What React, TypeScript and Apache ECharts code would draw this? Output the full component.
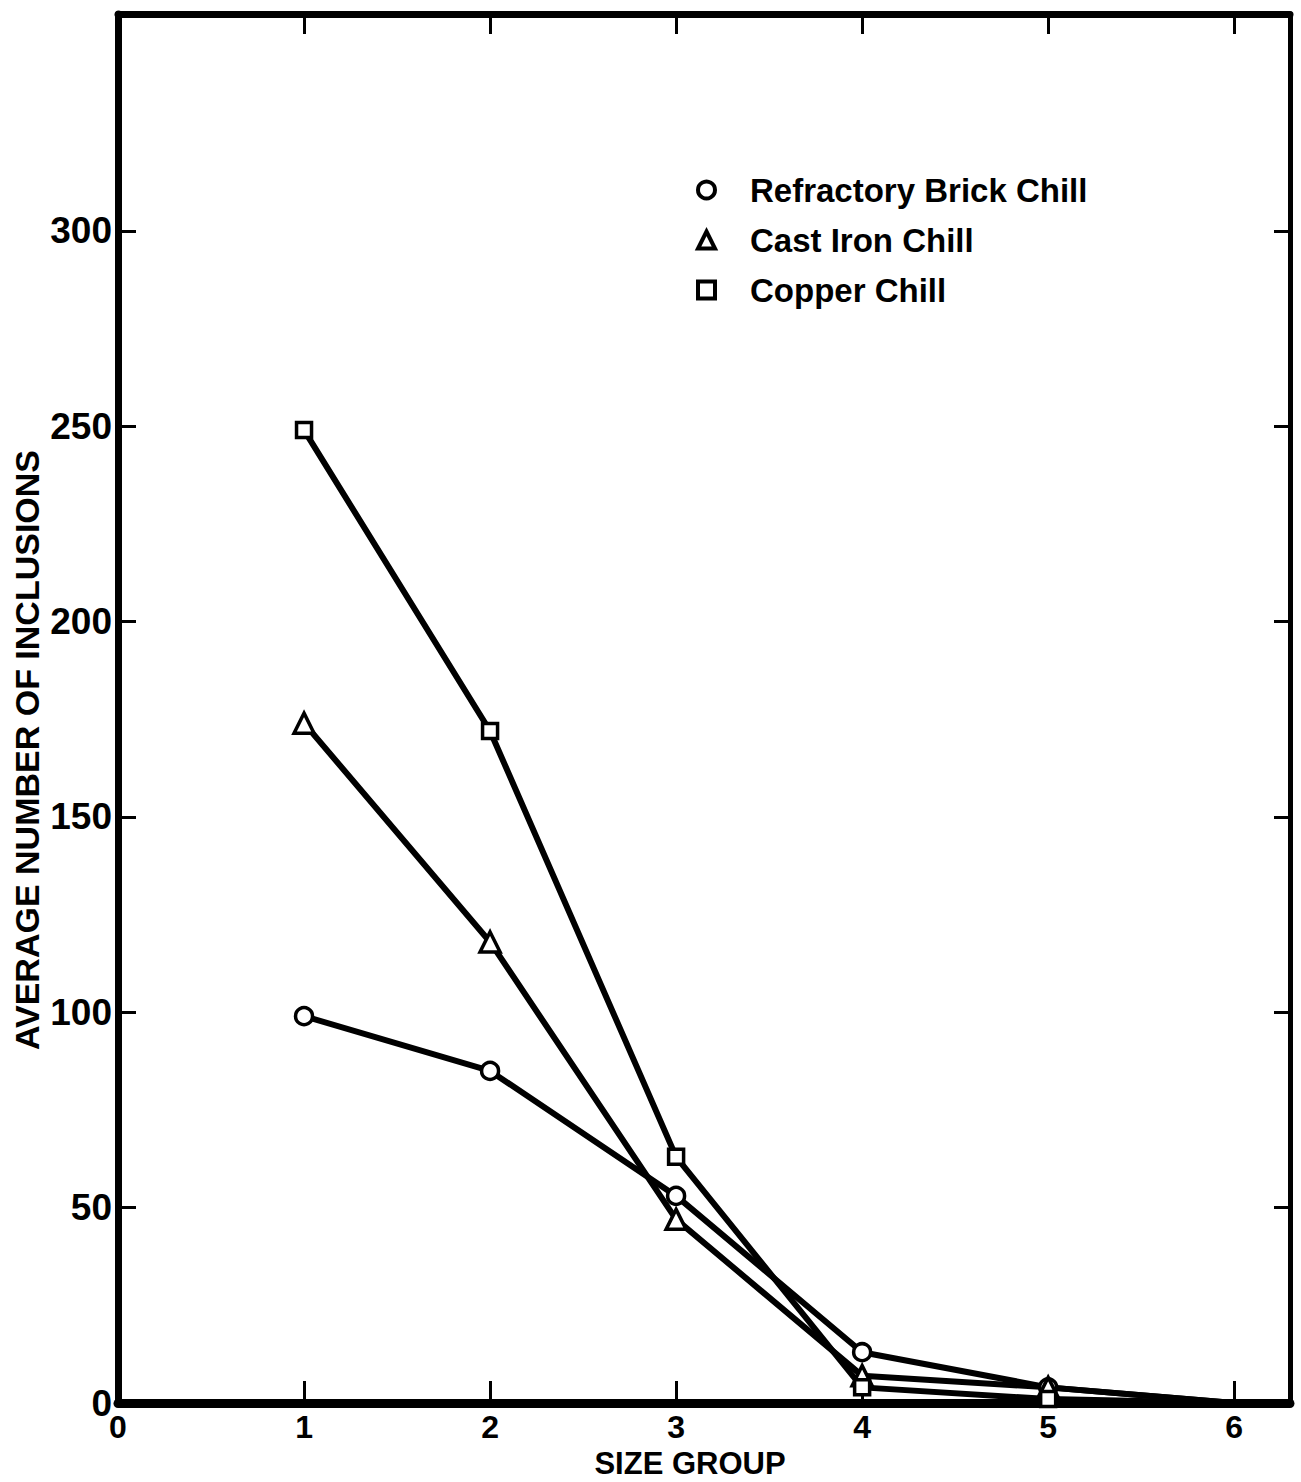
import React, { useEffect, useRef } from "react";
import * as echarts from "echarts";

// ---- data ----
const sizeGroups = [1, 2, 3, 4, 5, 6];
const refractoryBrick = [99, 85, 53, 13, 4, 0];
const castIron = [174, 118, 47, 7, 4, 0];
const copper = [249, 172, 63, 4, 1, 0];
const xTickValues = [0, 1, 2, 3, 4, 5, 6];
const xTopTickValues = [1, 2, 3, 4, 5, 6];
const yTickValues = [0, 50, 100, 150, 200, 250, 300];
const yRightTickValues = [50, 100, 150, 200, 250, 300];
const seriesNames = ["Refractory Brick Chill", "Cast Iron Chill", "Copper Chill"];
const xTitle = "SIZE GROUP";
const yTitle = "AVERAGE NUMBER OF INCLUSIONS";

const FONT = '"Liberation Sans", Arial, sans-serif';

function toData(vals: number[]) {
  return sizeGroups.map((x, i) =>
    i === sizeGroups.length - 1
      ? { value: [x, vals[i]], symbol: "none" }
      : [x, vals[i]]
  );
}

export default function App() {
  const ref = useRef<HTMLDivElement>(null);
  useEffect(() => {
    if (!ref.current) return;
    const chart = echarts.init(ref.current, undefined, { renderer: "svg" });
    const X_MAX = 6.3;
    const Y_MAX = 355.5;
    const lineStyle = { color: "#000", width: 6 };
    const itemStyle = { color: "#fff", borderColor: "#000", borderWidth: 3.5 };
    const mkSeries = (name: string, vals: number[], symbol: string, size: number) => ({
      type: "line",
      name,
      data: toData(vals),
      symbol,
      symbolSize: size,
      showAllSymbol: true,
      lineStyle,
      itemStyle,
      emphasis: { disabled: true },
      z: 3,
    });
    chart.setOption({
      animation: false,
      backgroundColor: "#fff",
      grid: { left: 118, top: 14, width: 1172, height: 1389, containLabel: false },
      xAxis: [
        {
          type: "value",
          min: 0,
          max: X_MAX,
          position: "bottom",
          splitLine: { show: false },
          axisLine: { show: true, onZero: false, lineStyle: { color: "#000", width: 9 } },
          axisTick: {
            show: true,
            inside: true,
            length: 22,
            customValues: xTopTickValues,
            lineStyle: { color: "#000", width: 3 },
          },
          axisLabel: {
            customValues: xTickValues,
            margin: 8,
            color: "#000",
            fontFamily: FONT,
            fontWeight: "bold",
            fontSize: 32,
            lineHeight: 32,
          },
        },
        {
          type: "value",
          min: 0,
          max: X_MAX,
          position: "top",
          splitLine: { show: false },
          axisLine: { show: true, onZero: false, lineStyle: { color: "#000", width: 7 } },
          axisTick: {
            show: true,
            inside: true,
            length: 20,
            customValues: xTopTickValues,
            lineStyle: { color: "#000", width: 3 },
          },
          axisLabel: { show: false },
        },
      ],
      yAxis: [
        {
          type: "value",
          min: 0,
          max: Y_MAX,
          position: "left",
          splitLine: { show: false },
          axisLine: { show: true, onZero: false, lineStyle: { color: "#000", width: 7 } },
          axisTick: {
            show: true,
            inside: true,
            length: 18,
            customValues: yRightTickValues,
            lineStyle: { color: "#000", width: 3 },
          },
          axisLabel: {
            customValues: yTickValues,
            margin: 6,
            color: "#000",
            fontFamily: FONT,
            fontWeight: "bold",
            fontSize: 37,
          },
        },
        {
          type: "value",
          min: 0,
          max: Y_MAX,
          position: "right",
          splitLine: { show: false },
          axisLine: { show: true, onZero: false, lineStyle: { color: "#000", width: 5 } },
          axisTick: {
            show: true,
            inside: true,
            length: 16,
            customValues: yRightTickValues,
            lineStyle: { color: "#000", width: 3 },
          },
          axisLabel: { show: false },
        },
      ],
      legend: {
        orient: "vertical",
        left: 691,
        top: 167,
        itemWidth: 17,
        itemHeight: 17,
        itemGap: 14,
        selectedMode: false,
        itemStyle: { color: "#fff", borderColor: "#000", borderWidth: 4 },
        textStyle: {
          fontFamily: FONT,
          fontWeight: "bold",
          fontSize: 33,
          color: "#000",
          lineHeight: 36,
          padding: [0, 0, 0, 30],
        },
        data: [
          { name: seriesNames[0], icon: "circle" },
          { name: seriesNames[1], icon: "triangle" },
          { name: seriesNames[2], icon: "rect" },
        ],
      },
      series: [
        mkSeries(seriesNames[0], refractoryBrick, "circle", 17),
        mkSeries(seriesNames[1], castIron, "triangle", 20),
        mkSeries(seriesNames[2], copper, "rect", 15),
      ],
      graphic: [
        {
          type: "text",
          x: 27,
          y: 750,
          rotation: Math.PI / 2,
          style: {
            text: yTitle,
            font: `bold 34px ${FONT}`,
            fill: "#000",
            textAlign: "center",
            textVerticalAlign: "middle",
            align: "center",
            verticalAlign: "middle",
          },
        },
        {
          type: "text",
          x: 690,
          y: 1463,
          style: {
            text: xTitle,
            font: `bold 31px ${FONT}`,
            lineHeight: 31,
            fill: "#000",
            textAlign: "center",
            textVerticalAlign: "middle",
            align: "center",
            verticalAlign: "middle",
          },
        },
      ],
    });
    return () => chart.dispose();
  }, []);
  return <div ref={ref} style={{ width: 1301, height: 1482, position: "absolute", left: 0, top: 0 }} />;
}
